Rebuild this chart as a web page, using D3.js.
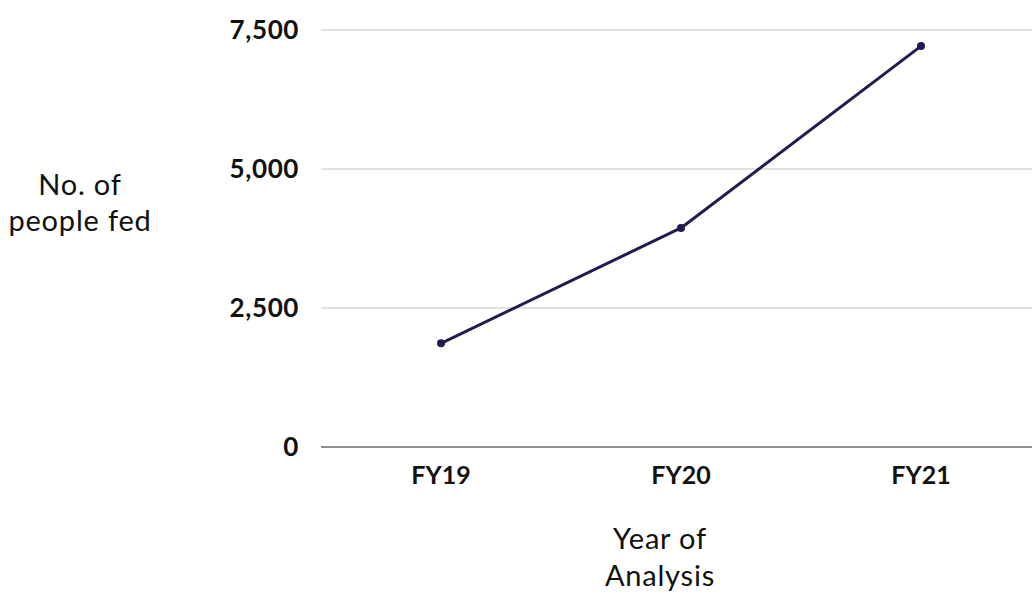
<!DOCTYPE html>
<html><head><meta charset="utf-8">
<script src="https://cdn.jsdelivr.net/npm/d3@7"></script>
<style>body{margin:0;background:#fff}svg{display:block}</style>
</head><body>
<svg id="c" width="1032" height="592"></svg>
<script>
const categories = ["FY19", "FY20", "FY21"];
const peopleFed = [1865, 3940, 7210];
const yTicks = [0, 2500, 5000, 7500];
const yTitle = ["No. of", "people fed"];
const xTitle = ["Year of", "Analysis"];

const svg = d3.select("#c");
const font = "Lato, 'DejaVu Sans', sans-serif";
const x = d3.scaleBand().domain(categories).range([321, 1041]);
const y = d3.scaleLinear().domain([0, 7500]).range([447, 30]);

// gridlines
svg.append("g").selectAll("line").data(yTicks).join("line")
  .attr("x1", 321).attr("x2", 1032)
  .attr("y1", d => y(d)).attr("y2", d => y(d))
  .attr("stroke", d => d === 0 ? "#6b6b6b" : "#c4c4c4")
  .attr("stroke-width", d => d === 0 ? 1.5 : 1.2);

// y tick labels
svg.append("g").selectAll("text").data(yTicks).join("text")
  .attr("x", 299).attr("y", d => y(d)).attr("dy", "0.36em")
  .attr("text-anchor", "end").attr("font-family", font).attr("font-weight", 700)
  .attr("font-size", 26).attr("letter-spacing", 0.6).attr("fill", "#111").text(d => d3.format(",")(d));

// x tick labels
svg.append("g").selectAll("text").data(categories).join("text")
  .attr("x", d => x(d) + x.bandwidth() / 2).attr("y", 484)
  .attr("text-anchor", "middle").attr("font-family", font).attr("font-weight", 700)
  .attr("font-size", 25).attr("fill", "#111").text(d => d);

// line
const pts = categories.map((c, i) => [x(c) + x.bandwidth() / 2, y(peopleFed[i])]);
svg.append("path").attr("d", d3.line()(pts)).attr("fill", "none")
  .attr("stroke", "#25194f").attr("stroke-width", 3).attr("stroke-linejoin", "round");
svg.append("g").selectAll("circle").data(pts).join("circle")
  .attr("cx", d => d[0]).attr("cy", d => d[1]).attr("r", 4).attr("fill", "#25194f");

// axis titles
svg.append("text").attr("font-family", font).attr("font-size", 29).attr("letter-spacing", 0.8).attr("fill", "#111")
  .attr("text-anchor", "middle").selectAll("tspan").data(yTitle).join("tspan")
  .attr("x", 80).attr("y", (d, i) => 195 + i * 36).text(d => d);
svg.append("text").attr("font-family", font).attr("font-size", 29).attr("letter-spacing", 0.8).attr("fill", "#111")
  .attr("text-anchor", "middle").selectAll("tspan").data(xTitle).join("tspan")
  .attr("x", 660).attr("y", (d, i) => 549 + i * 37).text(d => d);
</script>
</body></html>
